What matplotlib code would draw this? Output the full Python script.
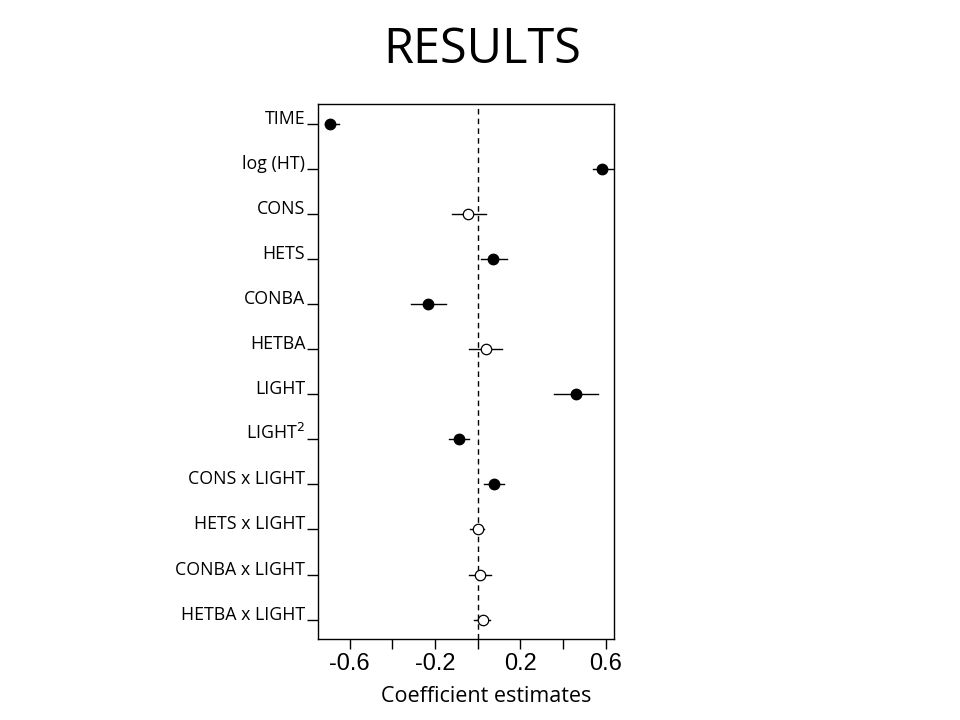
import numpy as np
import matplotlib.pyplot as plt

labels = ['TIME', 'log (HT)', 'CONS', 'HETS', 'CONBA', 'HETBA', 'LIGHT',
          'LIGHT$^2$', 'CONS x LIGHT', 'HETS x LIGHT', 'CONBA x LIGHT', 'HETBA x LIGHT']
est = [-0.693, 0.584, -0.047, 0.073, -0.232, 0.036, 0.458, -0.086, 0.075, 0.000, 0.012, 0.022]
lower = [-0.717, 0.538, -0.119, 0.016, -0.313, -0.039, 0.355, -0.135, 0.031, -0.035, -0.039, -0.016]
upper = [-0.651, 0.634, 0.038, 0.136, -0.150, 0.113, 0.563, -0.041, 0.123, 0.031, 0.062, 0.058]
significant = [True, True, False, True, True, False, True, True, True, False, False, False]

xticks = [-0.6, -0.4, -0.2, 0.0, 0.2, 0.4, 0.6]
xticklabels = ['-0.6', '', '-0.2', '', '0.2', '', '0.6']

fig = plt.figure(figsize=(9.6, 7.2), dpi=100)
ax = fig.add_axes([0.331, 0.1125, 0.309, 0.7435])

y = np.arange(len(labels))
ax.axvline(0, color='black', lw=1, ls=(0, (4, 3)), zorder=1)
for i in range(len(labels)):
    ax.plot([lower[i], upper[i]], [y[i], y[i]], color='black', lw=1, zorder=2)
    if significant[i]:
        ax.plot(est[i], y[i], 'o', ms=7.5, mfc='black', mec='black', zorder=3)
    else:
        ax.plot(est[i], y[i], 'o', ms=7.5, mfc='white', mec='black', mew=0.9, zorder=3)

ax.set_xlim(-0.75, 0.64)
ax.set_ylim(11.43, -0.44)
ax.set_yticks(y)
ax.set_yticklabels(labels, family='Open Sans', fontsize=12.8, va='baseline')
ax.set_xticks(xticks)
ax.set_xticklabels(xticklabels, family='Liberation Sans', fontsize=17)
ax.tick_params(axis='y', length=8, width=1, pad=1)
ax.tick_params(axis='x', length=7, width=1, pad=3)
for s in ax.spines.values():
    s.set_linewidth(1)

fig.text(0.502, 0.93, 'RESULTS', ha='center', va='center', family='Open Sans', fontsize=35)
fig.text(0.506, 0.032, 'Coefficient estimates', ha='center', va='center', family='Open Sans', fontsize=15.5)

fig.savefig('out.png')
